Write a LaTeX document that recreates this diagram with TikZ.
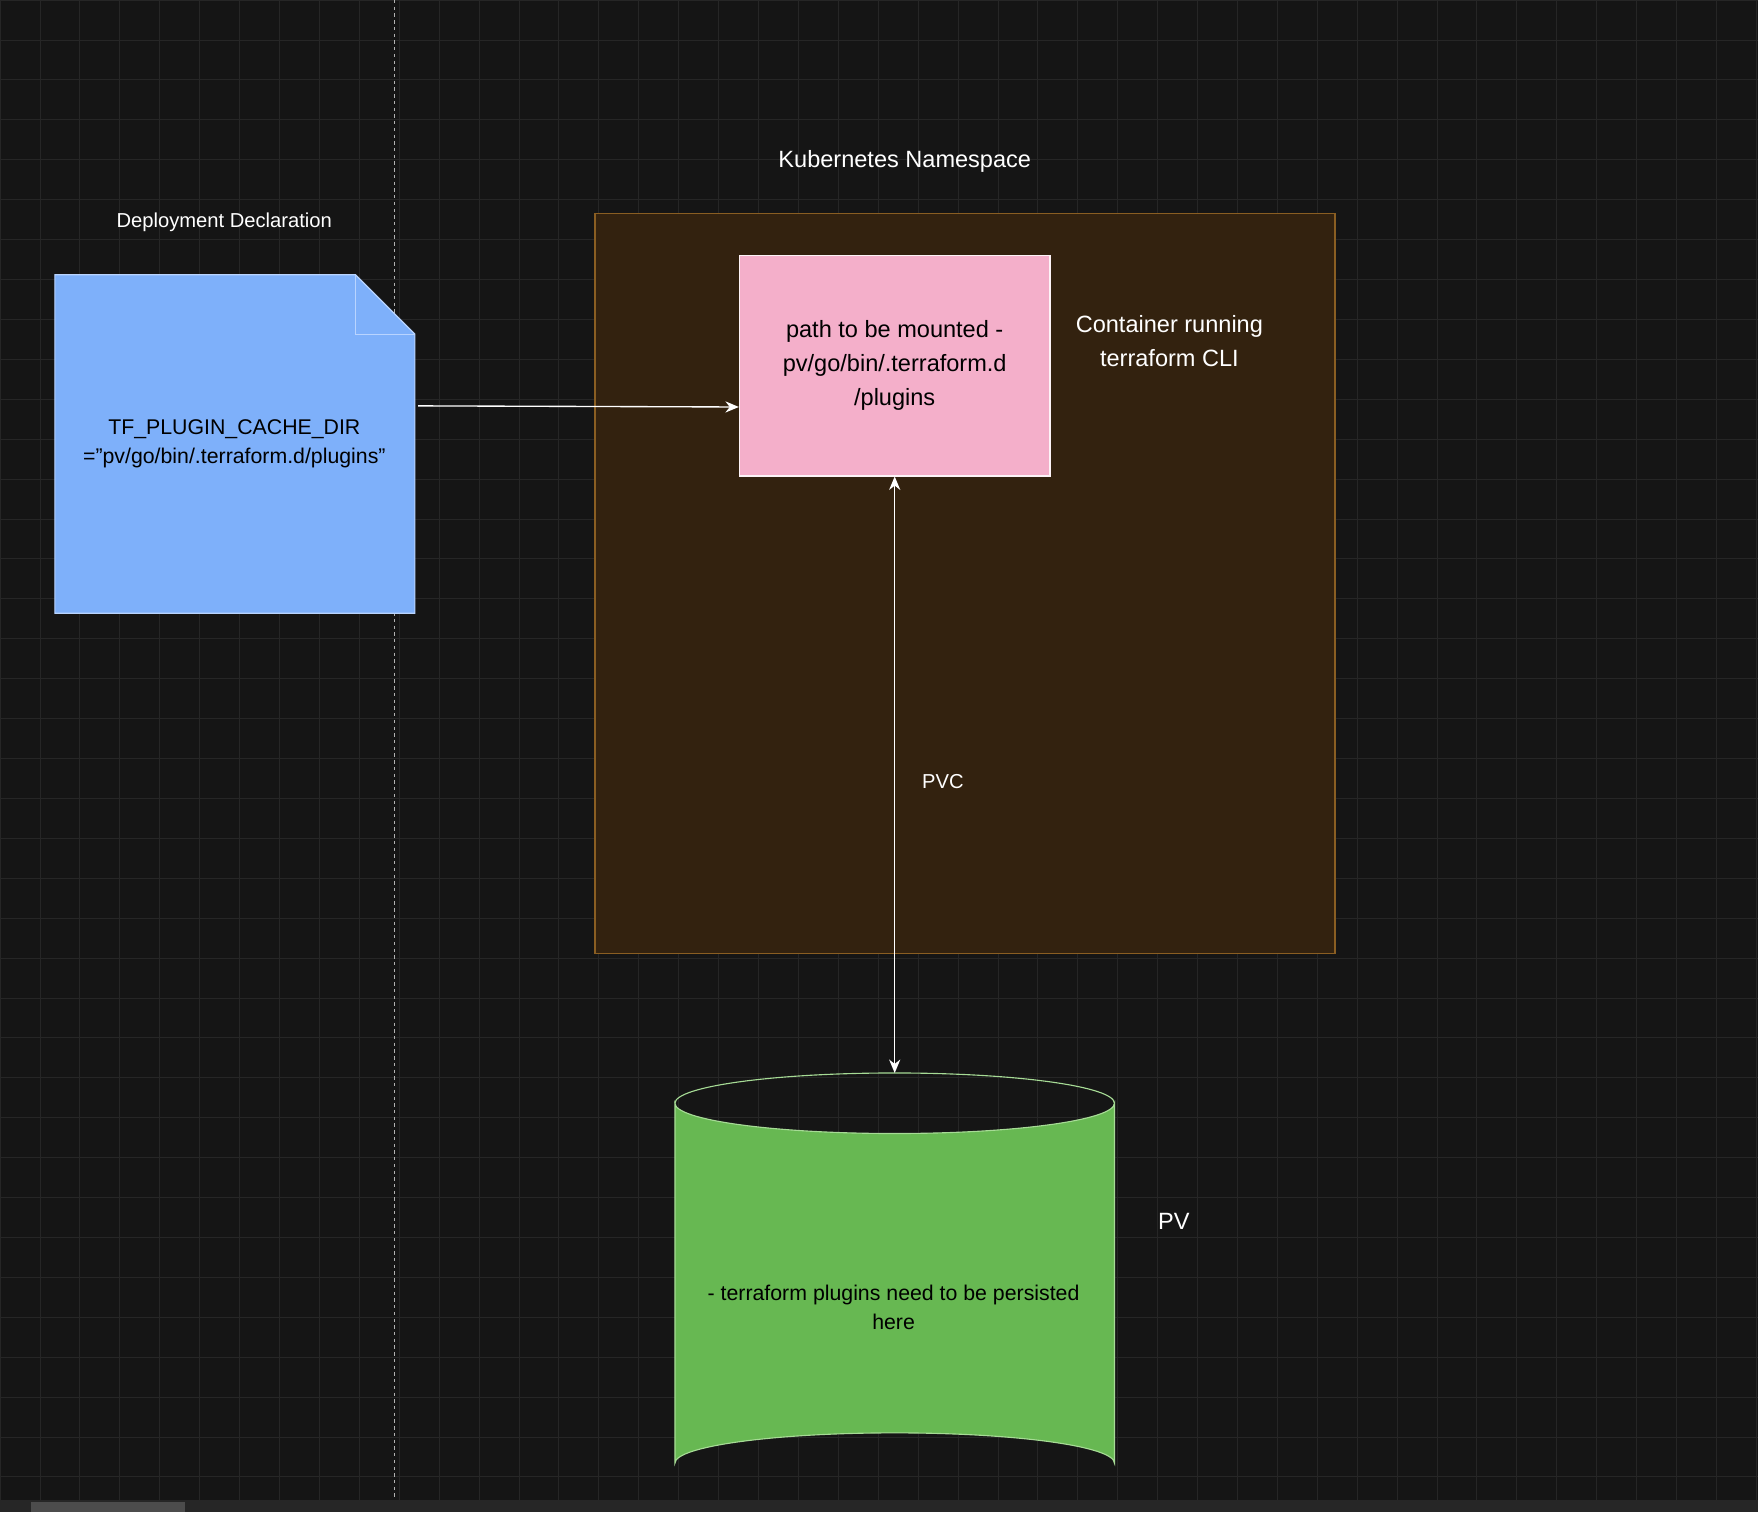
\documentclass[tikz,border=0pt]{standalone}
\usepackage{fontspec}
\setmainfont{Liberation Sans}
\usetikzlibrary{arrows.meta}
\definecolor{bg}{HTML}{151515}
\definecolor{gridc}{HTML}{262626}
\definecolor{nsfill}{HTML}{33220F}
\definecolor{nsdraw}{HTML}{8A5E22}
\definecolor{notefill}{HTML}{7EB0FA}
\definecolor{notedraw}{HTML}{B9D4FF}
\definecolor{pink}{HTML}{F4AFCA}
\definecolor{cylfill}{HTML}{67B852}
\definecolor{cyldraw}{HTML}{A6DB95}
\tikzset{
 lbl/.style={text=white,font=\fontsize{21}{25}\selectfont,align=center},
 slbl/.style={text=white,font=\fontsize{18}{22}\selectfont,align=center},
 conn/.style={draw=white,line width=1.2pt,-{Stealth[length=12pt,width=10pt]}},
}
\begin{document}
\begin{tikzpicture}[x=1pt,y=-1pt]
\fill[bg] (0,0) rectangle (1568,1349);
\useasboundingbox (0,0) rectangle (1568,1349);
\draw[gridc,line width=0.6pt,step=35.6pt] (0,0) grid (1568,1338);
\draw[gray!60,dashed,line width=0.8pt] (352,0) -- (352,1338);
\fill[black!85] (0,1338) rectangle (1568,1349);
\fill[black!70] (28,1340) rectangle (165,1349);
% namespace
\node[draw=nsdraw,fill=nsfill,line width=1.2pt,minimum width=660pt,minimum height=660pt,anchor=north west,inner sep=0] (ns) at (530,190) {};
\node[lbl] (nst) at (807,144) {Kubernetes Namespace};
% note
\fill[notefill,draw=notedraw,line width=1pt] (49,245) -- (317,245) -- (370,298) -- (370,547) -- (49,547) -- cycle;
\draw[notedraw,line width=1pt] (317,245) -- (317,298) -- (370,298);
\node[align=center,font=\fontsize{19}{26}\selectfont] (note) at (209,396) {TF\_PLUGIN\_CACHE\_DIR\\="pv/go/bin/.terraform.d/plugins"};
\coordinate (noteR) at (373,362);
\node[slbl] (dd) at (200,198) {Deployment Declaration};
% pink
\node[draw=white!85!pink,fill=pink,line width=1pt,minimum width=277pt,minimum height=197pt,anchor=north west,inner sep=0] (pod) at (659,227) {};
\node[align=center,font=\fontsize{21}{30}\selectfont] at (pod.center) {path to be mounted -\\pv/go/bin/.terraform.d\\/plugins};
\node[lbl,font=\fontsize{21}{30}\selectfont] (ct) at (1043,304) {Container running\\terraform CLI};
% cylinder
\fill[cylfill,draw=cyldraw,line width=1pt] (602,984) -- (602,1305) arc[start angle=180,end angle=360,x radius=196,y radius=27] -- (994,984) arc[start angle=0,end angle=180,x radius=196,y radius=27] -- cycle;
\draw[cyldraw,line width=1pt] (602,984) arc[start angle=180,end angle=360,x radius=196,y radius=27];
\coordinate (cyltop) at (798,957);
\node[align=center,font=\fontsize{19}{26}\selectfont] (cyl) at (797,1166) {- terraform plugins need to be persisted\\here};
\node[lbl] (pv) at (1047,1089) {PV};
% connectors
\draw[conn] (noteR) -- (pod.west |- 0,363);
\draw[draw=white,line width=1.2pt,{Stealth[length=12pt,width=10pt]}-{Stealth[length=12pt,width=10pt]}] (pod.south) -- (cyltop);
\node[slbl] (pvc) at (841,697) {PVC};
\end{tikzpicture}
\end{document}
